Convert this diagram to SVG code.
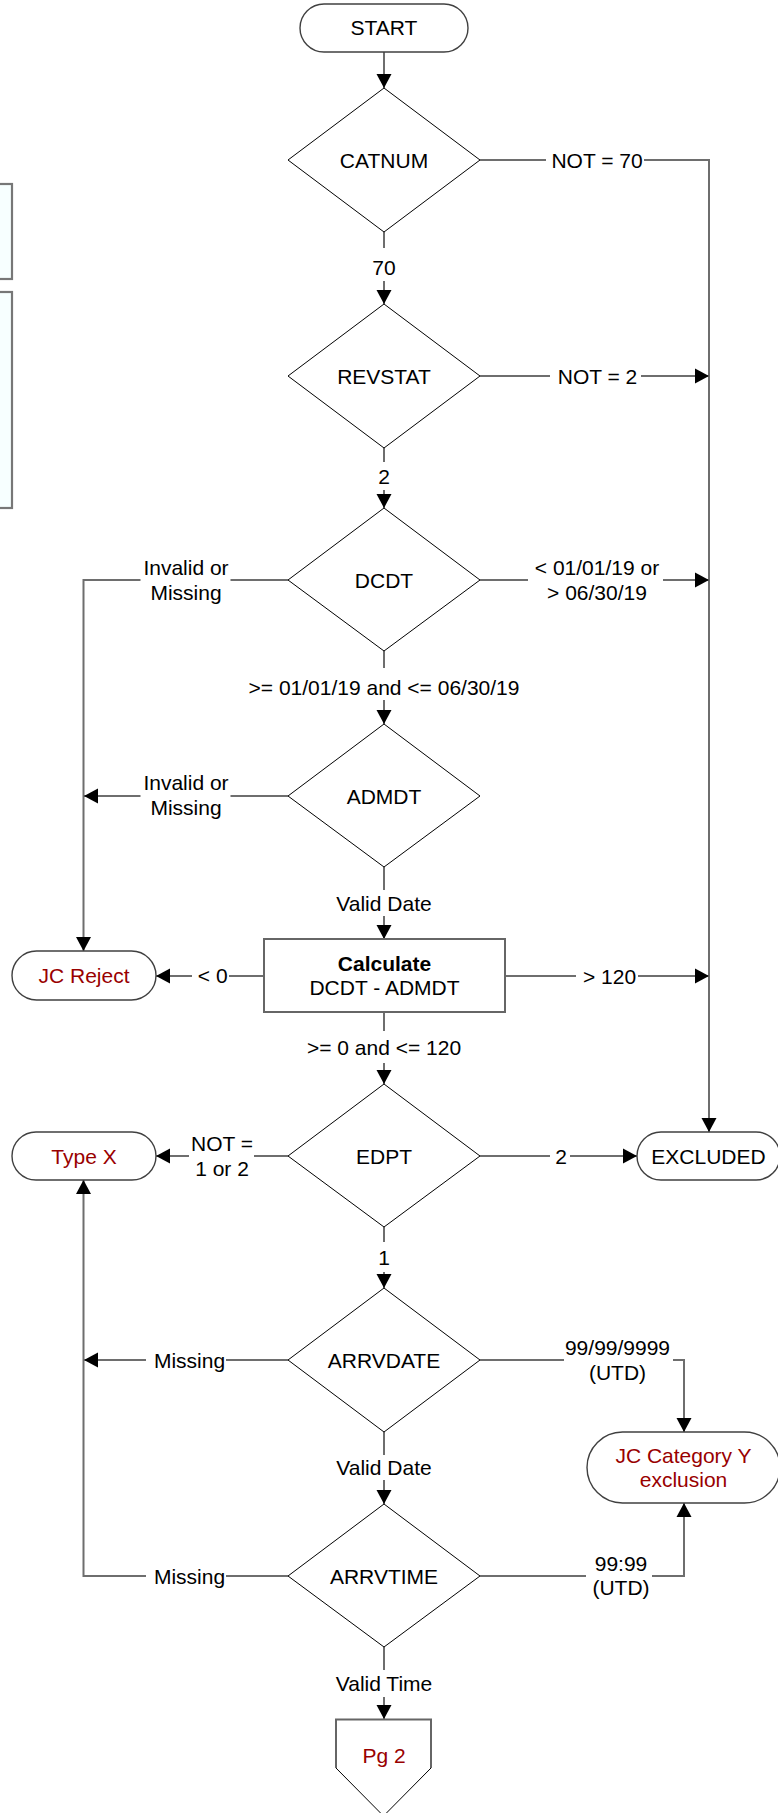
<svg xmlns="http://www.w3.org/2000/svg" width="778" height="1813" viewBox="0 0 778 1813">
<style>
text{font-family:"Liberation Sans",Arial,sans-serif;font-size:21px;fill:#000;text-anchor:middle}
.red{fill:#990000}
.b{font-weight:bold}
.dia{fill:#fff;stroke:#000;stroke-width:1}
.pill{fill:#fff;stroke:#404040;stroke-width:1.4}
.box{fill:#fff;stroke:#666;stroke-width:2}
.side{fill:#F7FFFF;stroke:#777;stroke-width:2.2}
.c{fill:none;stroke:#6e6e6e;stroke-width:2}
.a{marker-end:url(#ah)}
</style>
<defs>
<marker id="ah" markerUnits="userSpaceOnUse" markerWidth="15" markerHeight="16" viewBox="0 0 14 16" refX="14" refY="8" orient="auto">
<path d="M0,0.5 L14,8 L0,15.5 z" fill="#000"/>
</marker>
</defs>
<rect width="778" height="1813" fill="#fff"/>

<g id="side-boxes">
<rect class="side" x="-10" y="184" width="22" height="95"/>
<rect class="side" x="-10" y="292" width="22" height="216"/>
</g>

<g id="connectors">
<path class="c a" d="M384,52 V88"/>
<path class="c a" d="M480,160 H546 M644,160 H709 V1132"/>
<path class="c a" d="M384,232 V248 M384,281 V304"/>
<path class="c a" d="M480,376 H550 M641,376 H709"/>
<path class="c a" d="M384,448 V462 M384,490 V508"/>
<path class="c a" d="M480,580 H528 M663,580 H709"/>
<path class="c a" d="M288,580 H230.5 M140.5,580 H83.5 V951"/>
<path class="c a" d="M384,651 V668 M384,700 V724"/>
<path class="c a" d="M288,796 H230.5 M140.5,796 H84"/>
<path class="c a" d="M384,867 V890 M384,916 V939"/>
<path class="c a" d="M264,976 H229 M192,976 H156"/>
<path class="c a" d="M505,976 H576 M638,976 H709"/>
<path class="c a" d="M384,1012 V1031 M384,1063 V1084"/>
<path class="c a" d="M480,1156 H550 M570,1156 H637"/>
<path class="c a" d="M288,1156 H254 M189,1156 H156"/>
<path class="c a" d="M384,1227 V1242 M384,1272 V1288"/>
<path class="c a" d="M288,1360 H226 M146,1360 H84"/>
<path class="c a" d="M480,1360 H564 M673,1360 H684 V1432"/>
<path class="c a" d="M384,1432 V1455 M384,1480 V1504"/>
<path class="c a" d="M288,1576 H226 M146,1576 H83.5 V1180"/>
<path class="c a" d="M480,1576 H586 M652,1576 H684 V1503"/>
<path class="c a" d="M384,1647 V1670 M384,1697 V1719"/>

<text x="597" y="167.5">NOT = 70</text>
<text x="384" y="275">70</text>
<text x="597.5" y="383.5">NOT = 2</text>
<text x="384" y="484">2</text>
<text x="597" y="574.5">&lt; 01/01/19 or</text>
<text x="597" y="599.5">&gt; 06/30/19</text>
<text x="186" y="574.5">Invalid or</text>
<text x="186" y="599.5">Missing</text>
<text x="384" y="694.5">&gt;= 01/01/19 and &lt;= 06/30/19</text>
<text x="186" y="789.5">Invalid or</text>
<text x="186" y="814.5">Missing</text>
<text x="384" y="910.5">Valid Date</text>
<text x="212.7" y="982.5">&lt; 0</text>
<text x="609.5" y="983.5">&gt; 120</text>
<text x="384" y="1054.5">&gt;= 0 and &lt;= 120</text>
<text x="561" y="1163.5">2</text>
<text x="222" y="1150.5">NOT =</text>
<text x="222" y="1175.5">1 or 2</text>
<text x="384" y="1264.5">1</text>
<text x="189.5" y="1367.5">Missing</text>
<text x="617.5" y="1354.5">99/99/9999</text>
<text x="617.5" y="1379.5">(UTD)</text>
<text x="384" y="1474.5">Valid Date</text>
<text x="189.5" y="1583.5">Missing</text>
<text x="621" y="1570.5">99:99</text>
<text x="621" y="1594.5">(UTD)</text>
<text x="384" y="1690.5">Valid Time</text>
</g>

<g id="start">
<rect class="pill" x="300" y="4" width="168" height="48" rx="24"/>
<text x="384" y="34.5">START</text>
</g>
<g id="catnum">
<polygon class="dia" points="384,88 480,160 384,232 288,160"/>
<text x="384" y="167.5">CATNUM</text>
</g>
<g id="revstat">
<polygon class="dia" points="384,304 480,376 384,448 288,376"/>
<text x="384" y="383.5">REVSTAT</text>
</g>
<g id="dcdt">
<polygon class="dia" points="384,508 480,580 384,651 288,580"/>
<text x="384" y="587.5">DCDT</text>
</g>
<g id="admdt">
<polygon class="dia" points="384,724 480,796 384,867 288,796"/>
<text x="384" y="803.5">ADMDT</text>
</g>
<g id="calculate">
<rect class="box" x="264" y="939" width="241" height="73"/>
<text class="b" x="384.5" y="970.5">Calculate</text>
<text x="384.5" y="994.5">DCDT - ADMDT</text>
</g>
<g id="jc-reject">
<rect class="pill" x="12" y="951" width="144" height="49" rx="24.5"/>
<text class="red" x="84" y="982.5">JC Reject</text>
</g>
<g id="edpt">
<polygon class="dia" points="384,1084 480,1156 384,1227 288,1156"/>
<text x="384" y="1163.5">EDPT</text>
</g>
<g id="type-x">
<rect class="pill" x="12" y="1132" width="144" height="48" rx="24"/>
<text class="red" x="84" y="1163.5">Type X</text>
</g>
<g id="excluded">
<rect class="pill" x="637" y="1132" width="143" height="48" rx="24"/>
<text x="708.5" y="1163.5">EXCLUDED</text>
</g>
<g id="arrvdate">
<polygon class="dia" points="384,1288 480,1360 384,1432 288,1360"/>
<text x="384" y="1367.5">ARRVDATE</text>
</g>
<g id="jc-category-y">
<rect class="pill" x="587" y="1432" width="193" height="71" rx="35.5"/>
<text class="red" x="683.5" y="1462.5">JC Category Y</text>
<text class="red" x="683.5" y="1487">exclusion</text>
</g>
<g id="arrvtime">
<polygon class="dia" points="384,1504 480,1576 384,1647 288,1576"/>
<text x="384" y="1583.5">ARRVTIME</text>
</g>
<g id="pg2">
<polygon points="336,1719.5 431,1719.5 431,1768 383.5,1816 336,1768" fill="#fff" stroke="none"/>
<path d="M336,1768 V1719.5 H431 V1768" fill="none" stroke="#666" stroke-width="2"/>
<path d="M336,1768 L383.5,1816 L431,1768" fill="none" stroke="#000" stroke-width="1"/>
<text class="red" x="384" y="1762.5">Pg 2</text>
</g>
</svg>
